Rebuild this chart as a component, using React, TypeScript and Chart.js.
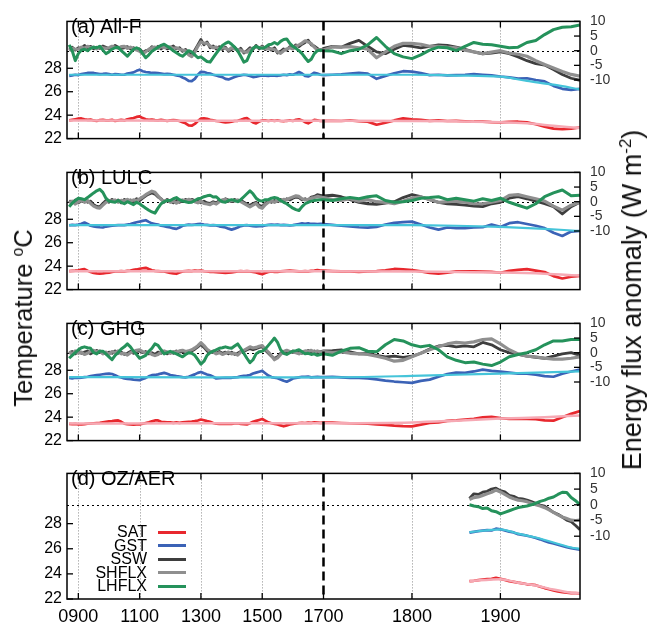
import React, { useEffect, useRef } from "react";
import { Chart, LinearScale, registerables } from "chart.js";

Chart.register(...registerables);

// ---------------- axis constants ----------------
const X_MIN = 863;
const X_BREAK = 1700;
const X_MAX = 1990;
const X_TICKS = [900, 1100, 1300, 1500, 1700, 1800, 1900];
const GRID_YEARS = [900, 1100, 1300, 1500, 1800, 1900];
const T_TICKS = [22, 24, 26, 28];
const F_TICKS = [-10, -5, 0, 5, 10];

// ---------------- years ----------------
const YEARS_PRE = Array.from({ length: 84 }, (_, i) => 870 + 10 * i);
const YEARS_POST = Array.from({ length: 29 }, (_, i) => 1710 + 10 * i);
const YEARS_D = Array.from({ length: 26 }, (_, i) => 1865 + 5 * i);
const SMOOTH_YEARS_A = [870, 1300, 1700, 1800, 1850, 1900, 1930, 1960, 1990];
const SMOOTH_YEARS_BC = [870, 1300, 1700, 1800, 1850, 1900, 1950, 1990];
const SMOOTH_YEARS_D = [1865, 1900, 1920, 1940, 1960, 1980, 1990];

// ---------------- (a) All-F ----------------
const A_SAT_PRE = [
  23.55, 23.6, 23.65, 23.7, 23.72, 23.65, 23.6, 23.62, 23.55, 23.5,
  23.58, 23.6, 23.55, 23.55, 23.6, 23.5, 23.55, 23.6, 23.55, 23.65,
  23.7, 23.75, 23.85, 23.9, 23.75, 23.65, 23.6, 23.62, 23.58, 23.55,
  23.6, 23.55, 23.5, 23.55, 23.58, 23.55, 23.5, 23.4, 23.3, 23.12,
  23.1, 23.25, 23.5, 23.7, 23.72, 23.68, 23.6, 23.55, 23.5, 23.48,
  23.42, 23.38, 23.4, 23.45, 23.5, 23.52, 23.6, 23.7, 23.75, 23.55,
  23.38, 23.3, 23.45, 23.55, 23.55, 23.5, 23.55, 23.52, 23.55, 23.5,
  23.48, 23.52, 23.55, 23.5, 23.6, 23.65, 23.55, 23.4, 23.3, 23.45,
  23.6, 23.55, 23.5, 23.52,
];
const A_SAT_POST = [
  23.52, 23.5, 23.55, 23.48, 23.45, 23.18, 23.35, 23.55, 23.72, 23.65,
  23.6, 23.52, 23.55, 23.5, 23.52, 23.48, 23.44, 23.45, 23.4, 23.38,
  23.42, 23.44, 23.38, 23.22, 23.02, 22.85, 22.8, 22.85, 22.95,
];
const A_GST_PRE = [
  27.35, 27.4, 27.45, 27.42, 27.5, 27.55, 27.6, 27.62, 27.6, 27.55,
  27.5, 27.52, 27.55, 27.5, 27.45, 27.5, 27.48, 27.45, 27.45, 27.55,
  27.6, 27.65, 27.78, 27.88, 27.75, 27.68, 27.65, 27.6, 27.6, 27.58,
  27.55, 27.5, 27.52, 27.5, 27.45, 27.4, 27.35, 27.22, 27.1, 26.92,
  26.9, 27.1, 27.45, 27.7, 27.68, 27.6, 27.55, 27.45, 27.38, 27.3,
  27.25, 27.1, 27.05, 27.15, 27.25, 27.35, 27.4, 27.45, 27.42, 27.35,
  27.25, 27.28, 27.35, 27.4, 27.38, 27.35, 27.4, 27.38, 27.36, 27.4,
  27.45, 27.42, 27.48, 27.45, 27.55, 27.68, 27.55, 27.35, 27.3, 27.45,
  27.62, 27.55, 27.45, 27.42,
];
const A_GST_POST = [
  27.45, 27.48, 27.55, 27.6, 27.55, 27.1, 27.35, 27.58, 27.75, 27.72,
  27.6, 27.42, 27.45, 27.4, 27.42, 27.45, 27.5, 27.45, 27.4, 27.3,
  27.22, 27.12, 27.15, 27.0, 26.88, 26.5, 26.25, 26.15, 26.25,
];
const A_SSW_PRE = [
  0.5, 1.2, 0.2, 1.0, 0.8, 1.8, 1.0, 1.5, 0.6, 1.2,
  0.8, 1.6, 1.2, 0.6, 1.0, 1.8, 1.2, 0.8, 1.0, 1.4,
  0.6, 1.0, 0.4, 0.6, -0.6, 0, 0.2, 1.4, 0.8, 1.5,
  0.6, 1.4, 0.6, 1.0, 1.6, 0.6, 1.0, -0.2, 0.4, -0.8,
  -1.6, 0.2, 2.0, 3.8, 2.0, 3.0, 1.0, 1.6, 0.6, 1.4,
  0.4, 1.2, -0.2, 0.4, 1.2, -0.2, 0.8, -0.8, 0, 1.0,
  0.4, 1.8, 0.6, 1.6, 0.4, 1.2, 0.2, 1.0, -0.8, -0.2,
  0.6, 0.2, 1.4, 1.0, 2.0, 1.4, 2.2, 2.8, 3.6, 2.0,
  1.6, 0.8, 0, 0.8,
];
const A_SSW_POST = [
  1.5, 1.2, 2.5, 3.5, 1.5, -0.4, -1.0, 0.5, 1.8, 1.5,
  1.0, 1.5, 2.0, 1.8, 1.2, 0.5, -0.4, -1.1, -0.8, -0.4,
  -1.0, -2.1, -3.4, -4.4, -4.9, -6.4, -8.1, -9.4, -10.1,
];
const A_SHF_PRE = [
  0, 0.8, 0.5, 0.5, 1.2, 0.8, 1.5, 1.0, 1.2, 0.6,
  1.4, 1.0, 0.8, 1.0, 1.5, 1.2, 0.8, 1.4, 1.5, 0.8,
  1.2, 0.6, 0.2, -0.2, -1.0, -0.4, 0.5, 1.0, 1.2, 0.8,
  1.4, 1.0, 1.2, 1.3, 0.8, 1.0, 0.5, 0.2, 0, -1.4,
  -2.0, -0.5, 1.5, 3.0, 2.6, 2.5, 1.6, 1.0, 1.2, 0.6,
  1.0, 0.8, 0.2, 1.0, 0.6, 0.4, 0.2, -0.4, -0.5, 0.4,
  0.8, 1.4, 1.0, 1.2, 0.8, 0.6, 0.6, 0.4, -0.4, -0.9,
  0, 0.6, 1.0, 0.6, 1.5, 2.0, 2.6, 3.4, 3.0, 2.4,
  1.2, 0.2, 0.4, 0.2,
];
const A_SHF_POST = [
  1.3, 1.2, 1.4, 1.0, 0.5, -2.4, -0.4, 1.5, 2.5, 2.5,
  2.2, 1.5, 1.5, 1.2, 1.0, 0.2, -0.4, -1.0, -0.5, 0,
  -0.8, -1.2, -1.9, -3.4, -4.7, -5.9, -7.1, -8.1, -8.7,
];
const A_LH_PRE = [
  2.0, 0, -3.4, -1.0, 0.2, 0.5, 0, 0.8, 1.2, 1.0,
  1.5, 0.2, -1.0, -0.4, 0.5, 1.0, 1.2, 0, -0.9, -1.9,
  -0.7, 0.5, 1.0, 0.5, -1.0, -2.4, -1.4, -0.2, 0.5, 1.2,
  1.8, 2.2, 1.5, 0.8, 0, -0.7, -1.4, -1.9, -1.0, 0,
  -0.4, -1.4, -2.4, -2.1, -2.9, -3.7, -3.9, -2.4, -0.9, 0.5,
  1.8, 2.5, 3.0, 2.2, 1.2, 0, -1.9, -3.9, -3.4, -1.0,
  0.8, 1.5, 1.0, 0.8, 1.2, 2.0, 2.2, 2.8, 2.2, 3.2,
  3.8, 4.0, 2.5, 1.5, 0.8, 0, -1.0, -2.4, -3.7, -2.9,
  -1.0, 0, 0.2, 0,
];
const A_LH_POST = [
  -0.1, -1.0, 0, 0.5, 2.0, 4.5, 1.5, -1.0, -2.1, -2.7,
  -1.4, 0.2, 1.2, 1.0, 0, 1.5, 2.8, 2.2, 2.0, 1.5,
  1.0, 1.2, 2.8, 3.5, 5.5, 7.2, 8.0, 8.2, 8.8,
];
const A_SAT_SMOOTH = [23.55, 23.53, 23.52, 23.5, 23.47, 23.4, 23.3, 23.1, 22.9];
const A_GST_SMOOTH = [27.45, 27.45, 27.45, 27.45, 27.38, 27.28, 26.92, 26.6, 26.2];

// ---------------- (b) LULC ----------------
const B_SAT_PRE = [
  23.58, 23.6, 23.62, 23.65, 23.7, 23.75, 23.62, 23.5, 23.42, 23.38,
  23.36, 23.38, 23.42, 23.45, 23.5, 23.55, 23.55, 23.58, 23.56, 23.6,
  23.62, 23.68, 23.72, 23.78, 23.82, 23.86, 23.75, 23.65, 23.6, 23.58,
  23.56, 23.55, 23.48, 23.42, 23.38, 23.35, 23.45, 23.55, 23.58, 23.6,
  23.58, 23.62, 23.6, 23.62, 23.58, 23.55, 23.52, 23.5, 23.48, 23.46,
  23.45, 23.42, 23.44, 23.46, 23.5, 23.56, 23.58, 23.56, 23.58, 23.55,
  23.5, 23.46, 23.38, 23.32, 23.42, 23.5, 23.55, 23.52, 23.5, 23.55,
  23.58, 23.6, 23.62, 23.6, 23.58, 23.55, 23.56, 23.58, 23.55, 23.6,
  23.62, 23.66, 23.62, 23.62,
];
const B_SAT_POST = [
  23.58, 23.55, 23.56, 23.52, 23.55, 23.58, 23.65, 23.76, 23.72, 23.66,
  23.55, 23.42, 23.36, 23.45, 23.55, 23.56, 23.56, 23.54, 23.52, 23.44,
  23.6, 23.68, 23.74, 23.62, 23.5, 23.15, 22.95, 23.1, 23.18,
];
const B_GST_PRE = [
  27.48, 27.52, 27.5, 27.55, 27.62, 27.72, 27.6, 27.45, 27.4, 27.35,
  27.32, 27.3, 27.38, 27.42, 27.45, 27.48, 27.5, 27.5, 27.5, 27.55,
  27.6, 27.67, 27.75, 27.8, 27.86, 27.92, 27.78, 27.65, 27.6, 27.55,
  27.45, 27.42, 27.35, 27.3, 27.22, 27.18, 27.3, 27.45, 27.5, 27.55,
  27.52, 27.55, 27.58, 27.6, 27.55, 27.52, 27.48, 27.5, 27.48, 27.4,
  27.35, 27.3, 27.2, 27.12, 27.2, 27.3, 27.42, 27.48, 27.5, 27.45,
  27.42, 27.4, 27.42, 27.42, 27.48, 27.52, 27.55, 27.52, 27.55, 27.5,
  27.52, 27.5, 27.48, 27.5, 27.55, 27.6, 27.65, 27.62, 27.66, 27.6,
  27.62, 27.58, 27.6, 27.6,
];
const B_GST_POST = [
  27.52, 27.45, 27.4, 27.32, 27.28, 27.35, 27.55, 27.7, 27.75, 27.8,
  27.55, 27.3, 27.12, 27.3, 27.25, 27.25, 27.3, 27.32, 27.55, 27.35,
  27.67, 27.75, 27.6, 27.45, 27.25, 26.85, 26.58, 26.95, 27.0,
];
const B_SSW_PRE = [
  0.4, -0.4, 0.6, -0.4, 0.2, 0.8, -0.2, 0.2, -1.0, -1.6,
  -1.8, -0.6, 0.4, -0.2, 0.8, 0, 0.6, -0.4, 0.8, 0,
  0.6, -0.2, 1.0, 0.4, 1.2, 2.0, 2.6, 3.0, 2.6, 1.6,
  1.0, -0.2, 0.8, 0.2, -0.4, 0.4, -0.2, 0.2, 0.8, 0,
  0.8, 0.4, 0.2, -0.4, 0.2, -0.4, -0.6, 0, -0.4, 0.4,
  0.2, 1.0, 0.6, 0, 0.8, 0.2, 0.6, -0.2, -0.8, -1.2,
  -0.6, -0.2, -1.2, -1.6, -0.6, 0.4, -0.2, 0.4, 0, 0.8,
  0.2, 1.0, 0.6, 1.2, 1.6, 1.4, 0.6, 1.0, 0.4, 1.6,
  1.8, 2.4, 2.2, 2.0,
];
const B_SSW_POST = [
  2.2, 1.7, 0.7, -0.2, -0.7, -0.9, -0.5, 0, 1.4, 2.4,
  1.7, 0.7, -0.2, -0.7, -0.9, -1.2, -1.5, -1.7, -0.7, -0.2,
  1.2, 1.7, 1.0, 0.2, -0.7, -1.7, -4.2, -1.7, -0.2,
];
const B_SHF_PRE = [
  -0.5, 0.2, -0.8, 0, 0.5, -0.2, 0.4, -0.6, -1.5, -2.0,
  -2.2, -1.2, -0.2, 0.4, 0.2, 0.6, -0.2, 0.5, 0.2, 0.8,
  0.2, 0.6, 0.4, 1.0, 1.6, 2.4, 3.0, 3.6, 3.2, 2.0,
  0.8, 0.2, 0.5, -0.2, 0.2, -0.5, 0.2, 0.6, 0.2, 0.8,
  0.4, 0, -0.4, 0.2, -0.6, -0.8, -1.0, -0.4, -0.8, 0,
  0.6, 0.8, 0.2, 0.4, 0.2, 0.6, 0, -0.6, -1.2, -1.8,
  -1.2, -0.6, -1.8, -2.2, -1.0, -0.2, 0.2, -0.2, 0.4, 0.2,
  0.8, 0.6, 1.2, 1.6, 2.0, 1.8, 1.0, 0.6, 0.8, 1.2,
  1.4, 1.8, 1.6, 1.4,
];
const B_SHF_POST = [
  0.7, 0.4, 1.0, 0.2, 0.7, 0, -0.2, -0.7, 0.2, 1.2,
  1.7, 0.7, -0.2, 0, 0.2, -0.2, -0.7, -0.7, -0.2, 0.4,
  2.2, 2.4, 1.7, 1.0, 0.2, -1.5, -2.9, -1.2, -0.2,
];
const B_LH_PRE = [
  -1.7, -0.5, 0.4, 1.2, 1.0, 0.7, 1.4, 2.2, 3.0, 3.7,
  4.2, 3.2, 1.2, 0.2, 0, -0.2, 0.4, -0.2, -0.7, 0,
  -0.5, -1.0, -0.2, -0.7, -1.5, -2.2, -2.9, -3.5, -3.9, -2.2,
  -0.7, 0, 0.4, 0.4, 1.0, 1.4, 0.7, 0.2, 0, -0.3,
  -0.2, 0.4, 1.0, 1.2, 1.7, 2.0, 2.2, 1.6, 1.7, 0.7,
  0, -0.2, 0.4, 0.7, 0.4, 0, 0.7, 1.7, 2.7, 3.7,
  2.7, 1.2, 0.4, 0.2, 0.7, 0.7, 1.2, 1.4, 1.2, 0.4,
  -0.2, -0.7, -1.5, -2.2, -2.7, -3.0, -1.7, -0.7, -0.2, 0.2,
  0.4, 0.6, 0.7, 0.7,
];
const B_LH_POST = [
  0.4, 1.0, 1.4, 1.0, 1.7, 2.0, 0.4, -0.2, 0, 0.4,
  1.2, 1.4, 1.7, 0.7, 1.2, 0.7, 0.2, 1.0, 0.4, 1.2,
  -0.2, -1.2, -2.2, -0.7, 1.7, 3.0, 4.0, 2.0, 2.2,
];
const B_SAT_SMOOTH = [23.56, 23.56, 23.56, 23.55, 23.5, 23.45, 23.35, 23.2];
const B_GST_SMOOTH = [27.5, 27.5, 27.5, 27.5, 27.45, 27.35, 27.18, 27.0];

// ---------------- (c) GHG ----------------
const C_SAT_PRE = [
  23.42, 23.4, 23.42, 23.38, 23.38, 23.4, 23.44, 23.46, 23.48, 23.5,
  23.52, 23.56, 23.6, 23.64, 23.66, 23.7, 23.72, 23.6, 23.44, 23.4,
  23.38, 23.36, 23.38, 23.38, 23.44, 23.5, 23.56, 23.64, 23.72, 23.72,
  23.6, 23.58, 23.56, 23.55, 23.52, 23.55, 23.52, 23.55, 23.58, 23.6,
  23.62, 23.66, 23.72, 23.8, 23.74, 23.66, 23.6, 23.5, 23.44, 23.42,
  23.44, 23.42, 23.44, 23.42, 23.46, 23.48, 23.42, 23.4, 23.38, 23.48,
  23.6, 23.68, 23.76, 23.84, 23.7, 23.56, 23.48, 23.42, 23.38, 23.3,
  23.22, 23.3, 23.38, 23.42, 23.46, 23.5, 23.52, 23.5, 23.54, 23.52,
  23.55, 23.54, 23.52, 23.54,
];
const C_SAT_POST = [
  23.53, 23.5, 23.48, 23.46, 23.44, 23.38, 23.34, 23.28, 23.24, 23.22,
  23.36, 23.5, 23.55, 23.68, 23.72, 23.8, 23.86, 23.98, 24.02, 23.92,
  23.86, 23.88, 23.85, 23.82, 23.72, 23.7, 24.0, 24.28, 24.52,
];
const C_GST_PRE = [
  27.35, 27.3, 27.36, 27.35, 27.38, 27.42, 27.45, 27.5, 27.54, 27.58,
  27.62, 27.66, 27.7, 27.72, 27.68, 27.58, 27.45, 27.38, 27.3, 27.26,
  27.24, 27.2, 27.18, 27.16, 27.25, 27.35, 27.48, 27.58, 27.6, 27.65,
  27.72, 27.78, 27.7, 27.6, 27.55, 27.5, 27.46, 27.42, 27.4, 27.45,
  27.55, 27.65, 27.78, 27.86, 27.74, 27.64, 27.58, 27.45, 27.3, 27.32,
  27.34, 27.36, 27.35, 27.36, 27.4, 27.42, 27.48, 27.52, 27.54, 27.6,
  27.72, 27.8, 27.88, 27.95, 27.75, 27.55, 27.42, 27.36, 27.32, 27.22,
  27.1, 27.02, 27.15, 27.3, 27.35, 27.4, 27.45, 27.44, 27.46, 27.4,
  27.42, 27.44, 27.42, 27.42,
];
const C_GST_POST = [
  27.44, 27.4, 27.36, 27.36, 27.3, 27.22, 27.12, 27.04, 26.98, 26.92,
  27.1, 27.2, 27.45, 27.68, 27.8, 27.78, 27.9, 28.05, 27.95, 27.88,
  27.8, 27.72, 27.72, 27.62, 27.5, 27.45, 27.7, 27.9, 28.06,
];
const C_SSW_PRE = [
  -0.2, 0.4, -0.4, 0.6, -0.2, 0.2, 0.6, -0.4, 0.2, 0.8,
  0, 0.4, -0.4, 0.2, -0.2, 0.6, -0.2, 0.2, -0.6, -0.2,
  0.4, -0.2, 0.4, 0.6, 0, 0.4, -0.4, 0, -0.6, 0.2,
  -0.2, 0.4, -0.4, 0.2, -0.2, 0.6, 0.2, 0.4, -0.2, 0.4,
  0.6, 1.2, 2.0, 2.8, 1.8, 0.6, 0, 0.6, -0.2, 0.4,
  -0.2, 0.2, -0.4, 0.2, -0.6, -0.2, 0.4, 0.4, 1.0, 1.4,
  1.0, 1.4, 1.8, 2.0, 0.8, -0.2, -1.2, -2.0, -1.4, -0.2,
  0.2, 0.4, 0, 0.6, 0.2, 0.4, -0.2, 0.2, 0.8, 0.2,
  0.6, 0, 0.4, 0.6,
];
const C_SSW_POST = [
  0.7, 1.0, 0.3, -0.4, -0.2, -0.9, -1.4, -1.2, -1.6, -1.2,
  -0.2, 1.3, 2.3, 2.5, 2.0, 2.3, 2.0, 3.5, 2.7, 1.0,
  0, -0.6, -1.2, -1.6, -1.9, -1.2, -0.4, 0, -0.9,
];
const C_SHF_PRE = [
  0.4, -0.5, 0.6, -0.2, 0.2, -0.6, -0.2, 0.5, 0.8, 0.2,
  0.6, -0.4, 0.2, -0.6, 0.4, 0, 0.6, -0.4, -0.2, -0.8,
  0, 0.4, 0.8, 1.0, 0.4, -0.2, 0.2, -0.6, -1.0, -0.6,
  0.2, 0.6, 0.2, -0.2, 0.4, 0.2, 0.6, 0.8, 0.4, 0.6,
  1.0, 1.6, 2.4, 3.4, 2.4, 1.2, 0.4, 0.2, -0.4, 0,
  -0.6, -0.2, 0.2, -0.4, -0.2, -0.8, 0.2, 0.8, 1.4, 2.0,
  1.6, 1.8, 2.2, 2.4, 1.2, 0.2, -1.0, -2.4, -1.8, -0.6,
  0.4, 0.8, 0.4, 0.2, 0, -0.4, 0.2, 0.6, 0.4, 0.8,
  0.2, 0.6, 0.2, 0.4,
];
const C_SHF_POST = [
  0, 0.3, -0.2, -0.4, -0.6, -1.2, -1.9, -2.9, -2.6, -1.4,
  -0.2, 1.0, 2.0, 3.0, 3.5, 3.3, 3.7, 4.5, 4.7, 3.0,
  1.0, -0.4, -1.2, -1.4, -1.9, -2.2, -2.2, -1.9, -1.4,
];
const C_LH_PRE = [
  -1.9, -0.9, 0, 1.0, 1.7, 2.0, 1.7, 1.5, 0, -0.4,
  0.5, 0.5, -0.4, -1.4, -2.4, -0.9, 0, 1.3, 2.0, 3.0,
  2.0, 0.5, -0.6, -1.9, -1.4, -0.9, 0.5, 1.5, 3.0, 2.5,
  1.0, -0.4, 0, 0.5, 0, -0.4, -0.9, -1.4, -0.6, 0,
  -0.2, -0.9, -2.4, -3.9, -2.9, -0.9, 0, 0.5, 1.0, 1.5,
  1.7, 2.0, 1.7, 1.5, 2.3, 3.0, 1.5, -0.2, -1.9, -3.4,
  -2.4, -0.4, 0.3, 0.5, 1.3, 2.5, 3.7, 5.0, 3.5, 1.0,
  -0.2, -0.6, 0, 0.5, 0.7, 1.0, 0.3, -0.4, -0.2, -0.6,
  -0.4, -0.9, -0.6, -0.4,
];
const C_LH_POST = [
  -0.9, 0.5, 1.5, 1.7, 0.5, 0.3, 2.7, 4.5, 4.0, 2.7,
  2.0, 2.5, 1.0, -1.4, -2.6, -3.4, -3.2, -3.9, -4.4, -3.2,
  -1.4, -0.6, 0, 1.0, 2.7, 4.0, 4.0, 4.5, 4.5,
];
const C_SAT_SMOOTH = [23.46, 23.47, 23.48, 23.55, 23.7, 23.88, 24.0, 24.15];
const C_GST_SMOOTH = [27.42, 27.4, 27.4, 27.52, 27.62, 27.72, 27.82, 27.9];

// ---------------- (d) OZ/AER ----------------
const D_SAT = [
  23.42, 23.45, 23.5, 23.55, 23.58, 23.6, 23.68, 23.6, 23.52, 23.42,
  23.36, 23.3, 23.25, 23.17, 23.14, 23.1, 22.98, 22.87, 22.78, 22.68,
  22.6, 22.55, 22.5, 22.47, 22.46, 22.45,
];
const D_GST = [
  27.28, 27.35, 27.4, 27.45, 27.48, 27.46, 27.6, 27.55, 27.45, 27.36,
  27.3, 27.16, 27.1, 27.04, 26.96, 26.86, 26.75, 26.62, 26.5, 26.42,
  26.32, 26.22, 26.12, 26.05, 25.98, 25.92,
];
const D_SSW = [
  2.0, 3.5, 3.3, 4.0, 4.3, 5.0, 5.3, 4.5, 4.1, 3.0,
  2.7, 2.0, 1.9, 1.5, 1.0, 0.5, -0.1, -0.4, -1.4, -2.4,
  -3.0, -3.9, -4.9, -5.4, -6.6, -7.9,
];
const D_SHF = [
  1.7, 2.3, 2.5, 3.0, 3.5, 4.0, 4.7, 4.1, 3.3, 2.5,
  1.9, 1.5, 1.3, 1.0, 0.5, 0, -0.4, -0.9, -1.6, -2.4,
  -3.2, -3.9, -4.4, -4.9, -5.0, -4.9,
];
const D_LH = [
  0, -0.4, -0.6, -1.2, -1.0, -1.9, -2.2, -2.9, -2.4, -1.9,
  -1.4, -0.9, -0.6, -0.4, 0, 0.5, 1.1, 1.5, 2.1, 2.5,
  3.3, 4.0, 3.9, 2.3, 1.3, 0,
];
const D_SAT_SMOOTH = [23.42, 23.58, 23.3, 23.08, 22.75, 22.5, 22.45];
const D_GST_SMOOTH = [27.32, 27.55, 27.2, 26.9, 26.5, 26.1, 26.0];

const PANEL_LABELS = ["(a) All-F", "(b) LULC", "(c) GHG", "(d) OZ/AER"];
const LEGEND_NAMES = ["SAT", "GST", "SSW", "SHFLX", "LHFLX"];

// ---------------- styles ----------------
const FONT = '"Liberation Sans", Arial, Helvetica, sans-serif';
const C_SAT = "#e8282e";
const C_SAT_S = "#f6a9b4";
const C_GST = "#3b62b6";
const C_GST_S = "#45c4d9";
const C_SSW = "#3e3e3e";
const C_SHF = "#8f8f8f";
const C_LH = "#25925b";
const LEGEND_COLORS = [C_SAT, C_GST, C_SSW, C_SHF, C_LH];

const W = 654;
const PANEL_TOPS = [13, 164, 315, 465];
const PLOT_H = 134;
const PAD_TOP = 10;
const PLOT_LEFT = 67;
const PLOT_RIGHT = 580;

class BrokenYearScale extends LinearScale {
  static id = "brokenYear";
  static defaults = {};
  getPixelForValue(value) {
    if (value === null || value === undefined || isNaN(value)) return NaN;
    const d =
      value <= X_BREAK
        ? (0.5 * (value - X_MIN)) / (X_BREAK - X_MIN)
        : 0.5 + (0.5 * (value - X_BREAK)) / (X_MAX - X_BREAK);
    return this.getPixelForDecimal(d);
  }
  getValueForPixel(pixel) {
    const d = this.getDecimalForPixel(pixel);
    return d <= 0.5
      ? X_MIN + d * 2 * (X_BREAK - X_MIN)
      : X_BREAK + (d - 0.5) * 2 * (X_MAX - X_BREAK);
  }
}
Chart.register(BrokenYearScale);

const pts = (xs, ys) => xs.map((x, i) => ({ x, y: ys[i] }));

const PANELS = [
  {
    years: [...YEARS_PRE, ...YEARS_POST],
    sat: [...A_SAT_PRE, ...A_SAT_POST], gst: [...A_GST_PRE, ...A_GST_POST],
    ssw: [...A_SSW_PRE, ...A_SSW_POST], shf: [...A_SHF_PRE, ...A_SHF_POST], lh: [...A_LH_PRE, ...A_LH_POST],
    sy: SMOOTH_YEARS_A, satS: A_SAT_SMOOTH, gstS: A_GST_SMOOTH,
  },
  {
    years: [...YEARS_PRE, ...YEARS_POST],
    sat: [...B_SAT_PRE, ...B_SAT_POST], gst: [...B_GST_PRE, ...B_GST_POST],
    ssw: [...B_SSW_PRE, ...B_SSW_POST], shf: [...B_SHF_PRE, ...B_SHF_POST], lh: [...B_LH_PRE, ...B_LH_POST],
    sy: SMOOTH_YEARS_BC, satS: B_SAT_SMOOTH, gstS: B_GST_SMOOTH,
  },
  {
    years: [...YEARS_PRE, ...YEARS_POST],
    sat: [...C_SAT_PRE, ...C_SAT_POST], gst: [...C_GST_PRE, ...C_GST_POST],
    ssw: [...C_SSW_PRE, ...C_SSW_POST], shf: [...C_SHF_PRE, ...C_SHF_POST], lh: [...C_LH_PRE, ...C_LH_POST],
    sy: SMOOTH_YEARS_BC, satS: C_SAT_SMOOTH, gstS: C_GST_SMOOTH,
  },
  {
    years: YEARS_D,
    sat: D_SAT, gst: D_GST, ssw: D_SSW, shf: D_SHF, lh: D_LH,
    sy: SMOOTH_YEARS_D, satS: D_SAT_SMOOTH, gstS: D_GST_SMOOTH,
  },
];

const decorPlugin = {
  id: "decor",
  beforeDatasetsDraw(chart) {
    const { ctx, chartArea: a, scales } = chart;
    const x = scales.x;
    const yF = scales.yF;
    ctx.save();
    ctx.lineWidth = 1;
    ctx.strokeStyle = "#8a8a8a";
    ctx.setLineDash([1, 2]);
    for (const v of GRID_YEARS) {
      const px = Math.round(x.getPixelForValue(v)) + 0.5;
      ctx.beginPath();
      ctx.moveTo(px, a.top);
      ctx.lineTo(px, a.bottom);
      ctx.stroke();
    }
    ctx.strokeStyle = "#000";
    ctx.setLineDash([2, 3]);
    const py = Math.round(yF.getPixelForValue(0)) + 0.5;
    ctx.beginPath();
    ctx.moveTo(a.left, py);
    ctx.lineTo(a.right, py);
    ctx.stroke();
    ctx.restore();
  },
  afterDatasetsDraw(chart) {
    const { ctx, chartArea: a, scales } = chart;
    const x = scales.x;
    const yT = scales.yT;
    const yF = scales.yF;
    ctx.save();
    const p17 = x.getPixelForValue(1700);
    ctx.strokeStyle = "#000";
    ctx.lineWidth = 2.5;
    ctx.setLineDash([9, 5]);
    ctx.beginPath();
    ctx.moveTo(p17, a.top);
    ctx.lineTo(p17, a.bottom);
    ctx.stroke();
    ctx.setLineDash([]);
    ctx.lineWidth = 1.3;
    for (const v of X_TICKS) {
      const px = x.getPixelForValue(v);
      ctx.beginPath();
      ctx.moveTo(px, a.bottom);
      ctx.lineTo(px, a.bottom - 6);
      ctx.moveTo(px, a.top);
      ctx.lineTo(px, a.top + 6);
      ctx.stroke();
    }
    for (const v of T_TICKS) {
      const py = yT.getPixelForValue(v);
      ctx.beginPath();
      ctx.moveTo(a.left, py);
      ctx.lineTo(a.left + 6, py);
      ctx.stroke();
    }
    for (const v of F_TICKS) {
      const py = yF.getPixelForValue(v);
      ctx.beginPath();
      ctx.moveTo(a.right, py);
      ctx.lineTo(a.right - 6, py);
      ctx.stroke();
    }
    ctx.lineWidth = 1.5;
    ctx.strokeRect(a.left, a.top, a.right - a.left, a.bottom - a.top);
    ctx.restore();
  },
};

function lineDs(label, data, color, width, axis) {
  return {
    label,
    data,
    borderColor: color,
    backgroundColor: color,
    borderWidth: width,
    pointRadius: 0,
    tension: 0,
    fill: false,
    yAxisID: axis,
    borderJoinStyle: "round",
  };
}

function buildConfig(p, isLast, xAxisH) {
  const smooth = { cubicInterpolationMode: "monotone" };
  return {
    type: "line",
    data: {
      datasets: [
        { ...lineDs("GST smooth", pts(p.sy, p.gstS), C_GST_S, 2.2, "yT"), ...smooth },
        lineDs("GST", pts(p.years, p.gst), C_GST, 2.7, "yT"),
        { ...lineDs("SAT smooth", pts(p.sy, p.satS), C_SAT_S, 2.5, "yT"), ...smooth },
        lineDs("SAT", pts(p.years, p.sat), C_SAT, 2.7, "yT"),
        lineDs("LHFLX", pts(p.years, p.lh), C_LH, 3, "yF"),
        lineDs("SHFLX", pts(p.years, p.shf), C_SHF, 3.2, "yF"),
        lineDs("SSW", pts(p.years, p.ssw), C_SSW, 2.8, "yF"),
      ],
    },
    options: {
      animation: false,
      responsive: false,
      maintainAspectRatio: false,
      events: [],
      layout: { padding: { top: PAD_TOP, left: 0, right: 0, bottom: 0 } },
      plugins: {
        legend: { display: false },
        tooltip: { enabled: false },
        title: { display: false },
      },
      scales: {
        x: {
          type: "brokenYear",
          min: X_MIN,
          max: X_MAX,
          afterBuildTicks: (s) => {
            s.ticks = X_TICKS.map((v) => ({ value: v }));
          },
          afterFit: (s) => {
            s.height = xAxisH;
          },
          grid: { display: false, drawTicks: false },
          border: { display: false },
          ticks: {
            display: isLast,
            autoSkip: false,
            maxRotation: 0,
            minRotation: 0,
            padding: 7,
            color: "#000",
            font: { family: FONT, size: 18 },
            callback: (v) => String(v).padStart(4, "0"),
          },
        },
        yT: {
          type: "linear",
          position: "left",
          min: 22,
          max: 32,
          afterBuildTicks: (s) => {
            s.ticks = T_TICKS.map((v) => ({ value: v }));
          },
          afterFit: (s) => {
            s.width = PLOT_LEFT;
          },
          grid: { display: false, drawTicks: false },
          border: { display: false },
          ticks: {
            padding: 5,
            color: "#000",
            font: { family: FONT, size: 16 },
            callback: (v) => String(v),
          },
        },
        yF: {
          type: "linear",
          position: "right",
          min: -30,
          max: 10,
          afterBuildTicks: (s) => {
            s.ticks = F_TICKS.map((v) => ({ value: v }));
          },
          afterFit: (s) => {
            s.width = W - PLOT_RIGHT;
          },
          grid: { display: false, drawTicks: false },
          border: { display: false },
          ticks: {
            padding: 10,
            color: "#333",
            font: { family: FONT, size: 14 },
            callback: (v) => String(v),
          },
        },
      },
    },
    plugins: [decorPlugin],
  };
}

function Panel({ index }) {
  const ref = useRef(null);
  const isLast = index === 3;
  const xAxisH = isLast ? 626 - (PANEL_TOPS[index] + PLOT_H) : 10;
  const h = PAD_TOP + PLOT_H + xAxisH;
  const top = PANEL_TOPS[index] - PAD_TOP;
  useEffect(() => {
    const chart = new Chart(ref.current, buildConfig(PANELS[index], isLast, xAxisH));
    return () => chart.destroy();
  }, []);
  return (
    <canvas
      ref={ref}
      width={W}
      height={h}
      style={{ position: "absolute", left: 0, top, width: W, height: h }}
    />
  );
}

export default function App() {
  return (
    <div
      style={{
        position: "absolute",
        left: 0,
        top: 0,
        width: W,
        height: 626,
        background: "#fff",
        overflow: "hidden",
        fontFamily: FONT,
      }}
    >
      {[0, 1, 2, 3].map((i) => (
        <Panel key={i} index={i} />
      ))}
      {PANEL_LABELS.map((t, i) => (
        <div
          key={t}
          style={{
            position: "absolute",
            left: 71,
            top: PANEL_TOPS[i] + 2.6,
            fontSize: 20,
            lineHeight: "20px",
            color: "#000",
            whiteSpace: "nowrap",
          }}
        >
          {t}
        </div>
      ))}
      {LEGEND_NAMES.map((name, i) => (
        <React.Fragment key={name}>
          <div
            style={{
              position: "absolute",
              left: 40,
              width: 107,
              top: 532 + i * 13.5 - 8.8,
              textAlign: "right",
              fontSize: 16,
              lineHeight: "18px",
              color: "#000",
            }}
          >
            {name}
          </div>
          <div
            style={{
              position: "absolute",
              left: 158,
              top: 532 + i * 13.5 - 1.5,
              width: 28,
              height: 3,
              background: LEGEND_COLORS[i],
            }}
          />
        </React.Fragment>
      ))}
      <div
        style={{
          position: "absolute",
          left: 25,
          top: 318,
          transform: "translate(-50%, -50%) rotate(-90deg)",
          whiteSpace: "nowrap",
          fontSize: 25.5,
          lineHeight: "28px",
          color: "#111",
        }}
      >
        Temperature{" "}
        <span style={{ fontSize: "0.62em", position: "relative", top: "-0.55em" }}>o</span>C
      </div>
      <div
        style={{
          position: "absolute",
          left: 634,
          top: 300,
          transform: "translate(-50%, -50%) rotate(-90deg)",
          whiteSpace: "nowrap",
          fontSize: 27,
          lineHeight: "30px",
          color: "#111",
        }}
      >
        Energy flux anomaly (W m
        <span style={{ fontSize: "0.62em", position: "relative", top: "-0.6em" }}>-2</span>)
      </div>
    </div>
  );
}
